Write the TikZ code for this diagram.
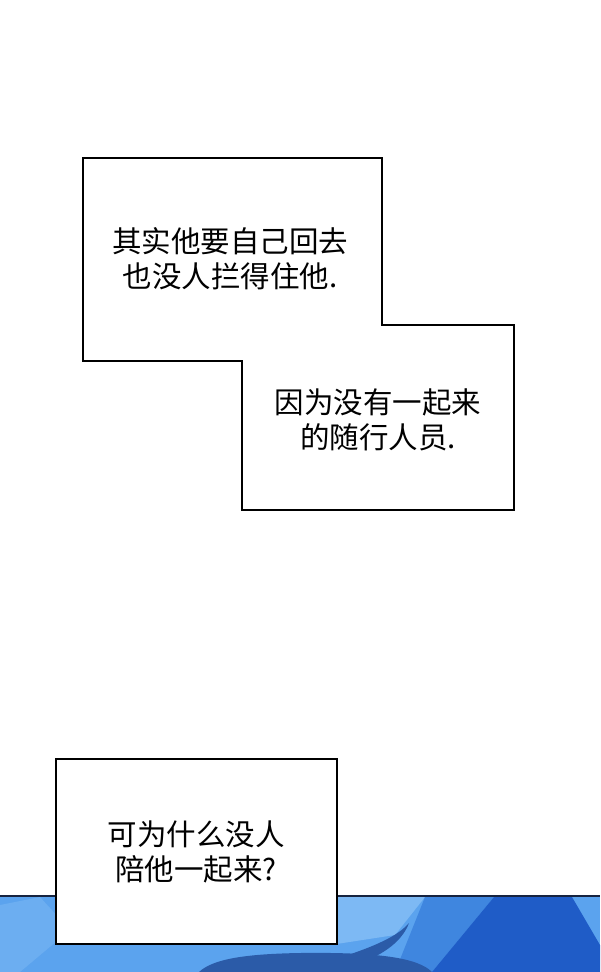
\documentclass[tikz,border=0pt]{standalone}
\usepackage{fontspec}
\newfontfamily\cjk{Noto Sans CJK SC}
\usepackage{tikz}
\definecolor{skyblue}{HTML}{5BA3EE}
\definecolor{paleblue}{HTML}{7DB9F4}
\definecolor{midblue}{HTML}{3F86DF}
\definecolor{deepblue}{HTML}{1F5CC7}
\definecolor{hairblue}{HTML}{2B5BA8}
\definecolor{inkline}{HTML}{16233F}
\tikzset{
  panel/.style={draw=black, line width=1.6pt, fill=white, line join=miter},
  speech/.style={font=\cjk\fontsize{29.5pt}{35pt}\selectfont, align=center, inner sep=0pt}
}

\begin{document}
\begin{tikzpicture}[x=1pt,y=-1pt]
\useasboundingbox (0,0) rectangle (600,972);
% scene below
\fill[skyblue] (0,896) rectangle (600,972);
\fill[paleblue] (300,897) -- (425,897) -- (395,935) -- (330,945) -- cycle;
\fill[paleblue!50!skyblue] (0,905) -- (40,897) -- (70,930) -- (20,972) -- (0,972) -- cycle;
\fill[midblue] (425,897) -- (494,897) -- (432,972) -- (395,972) -- cycle;
\fill[deepblue] (494,897) -- (572,897) -- (600,945) -- (600,972) -- (432,972) -- cycle;
\fill[hairblue] (199,972) .. controls (212,960) and (240,954) .. (300,953)
  .. controls (380,952) and (418,958) .. (432,972) -- cycle;
\fill[hairblue] (345,956) .. controls (375,946) and (398,936) .. (409,923)
  .. controls (402,942) and (382,955) .. (362,962) -- cycle;
\draw[inkline, line width=2pt] (0,896) -- (600,896);
% boxes
\draw[panel] (83,158) -- (382,158) -- (382,325) -- (514,325) -- (514,510)
  -- (242,510) -- (242,361) -- (83,361) -- cycle;
\draw[panel] (56,759) rectangle (337,944);
% texts
\node[speech] (back) at (230,259) {其实他要自己回去\\也没人拦得住他.};
\node[speech] (alone) at (378,420) {因为没有一起来\\的随行人员.};
\node[speech] (why) at (196,852) {可为什么没人\\陪他一起来?};
\end{tikzpicture}
\end{document}
